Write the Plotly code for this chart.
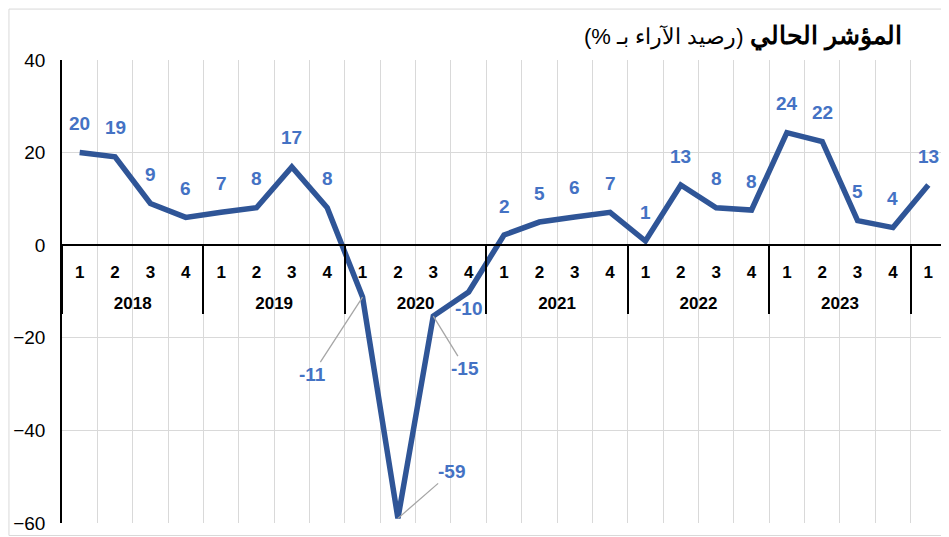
import plotly.graph_objects as go

# quarterly balance of opinions (%), 2018Q1 .. 2024Q1
year_names = ["2018", "2019", "2020", "2021", "2022", "2023", " "]
quarters_per_year = [4, 4, 4, 4, 4, 4, 1]
values = [20.0, 19.1, 9.0, 6.0, 7.1, 8.1, 16.9, 8.1,
          -11.2, -59.0, -15.3, -10.1, 2.2, 5.0, 6.1, 7.1,
          0.9, 13.0, 8.1, 7.6, 24.3, 22.4, 5.3, 3.8, 13.0]

title_main = "المؤشر الحالي"
title_sub = "\u200f(رصيد الآراء بـ %)\u200f"

years = []
quarters = []
for name, n in zip(year_names, quarters_per_year):
    for q in range(1, n + 1):
        # leading break pushes the year row further below the quarters
        years.append("<br>" + name)
        quarters.append(str(q))

FONT = "Arial, Liberation Sans, sans-serif"
LINE_BLUE = "#2F5597"
LABEL_BLUE = "#4472C4"

fig = go.Figure()
fig.add_trace(go.Scatter(
    x=[years, quarters], y=values, mode="lines",
    line=dict(color=LINE_BLUE, width=5.5),
    hoverinfo="skip", showlegend=False,
))

# data labels; a few are pushed off the line with a leader
leaders = {8: (-50, 77), 9: (54, -47), 10: (32, 52)}
below = {11: -17}
for i, v in enumerate(values):
    txt = f"{round(v):.0f}"
    if i in leaders:
        ax, ay = leaders[i]
        fig.add_annotation(x=i, y=v, xref="x2", yref="y", text=txt,
                           showarrow=True, ax=ax, ay=ay, arrowhead=0,
                           arrowwidth=1.3, arrowcolor="#A6A6A6", standoff=0,
                           font=dict(family=FONT, size=19, color=LABEL_BLUE, weight="bold"))
    else:
        fig.add_annotation(x=i, y=v, xref="x2", yref="y", text=txt,
                           showarrow=False, yshift=below.get(i, 29),
                           font=dict(family=FONT, size=19, color=LABEL_BLUE, weight="bold"))

fig.add_annotation(xref="paper", yref="paper", x=0.953, y=1.052,
                   xanchor="right", yanchor="middle", showarrow=False,
                   text=title_main,
                   font=dict(family=FONT, size=25, color="black", weight="bold"))
fig.add_annotation(xref="paper", yref="paper", x=0.774, y=1.049,
                   xanchor="right", yanchor="middle", showarrow=False,
                   text=title_sub,
                   font=dict(family=FONT, size=22, color="black"))

# outer chart border
fig.add_shape(type="rect", xref="paper", yref="paper",
              x0=-0.060, x1=1.002, y0=-0.027, y1=1.11,
              line=dict(color="#D9D9D9", width=1), layer="below")

fig.update_layout(
    width=941, height=529,
    margin=dict(l=54, r=3, t=52, b=14),
    paper_bgcolor="white", plot_bgcolor="white",
    font=dict(family=FONT, color="black"),
    xaxis=dict(
        type="multicategory", range=[-0.5, len(values) - 0.5],
        anchor="free", position=0.6,
        showline=True, linecolor="black", linewidth=1.5,
        showgrid=True, gridcolor="#EFEFEF", gridwidth=1,
        ticks="", ticklabelstandoff=12,
        showdividers=True, dividercolor="black", dividerwidth=1.5,
        tickfont=dict(family=FONT, size=17, color="black", weight="bold"),
        zeroline=False,
    ),
    xaxis2=dict(
        overlaying="x", anchor="y", range=[-0.5, len(values) - 0.5],
        tick0=-0.5, dtick=1, showgrid=True, gridcolor="#D9D9D9", gridwidth=1,
        showticklabels=False, ticks="", showline=False, zeroline=False,
    ),
    yaxis=dict(
        range=[-60, 40], dtick=20, tick0=0,
        showline=True, linecolor="black", linewidth=1.5,
        showgrid=True, gridcolor="#D9D9D9", gridwidth=1,
        zeroline=False, ticks="", ticklabelstandoff=11,
        tickfont=dict(family=FONT, size=19, color="black"),
    ),
)

fig.write_html("out.html")
